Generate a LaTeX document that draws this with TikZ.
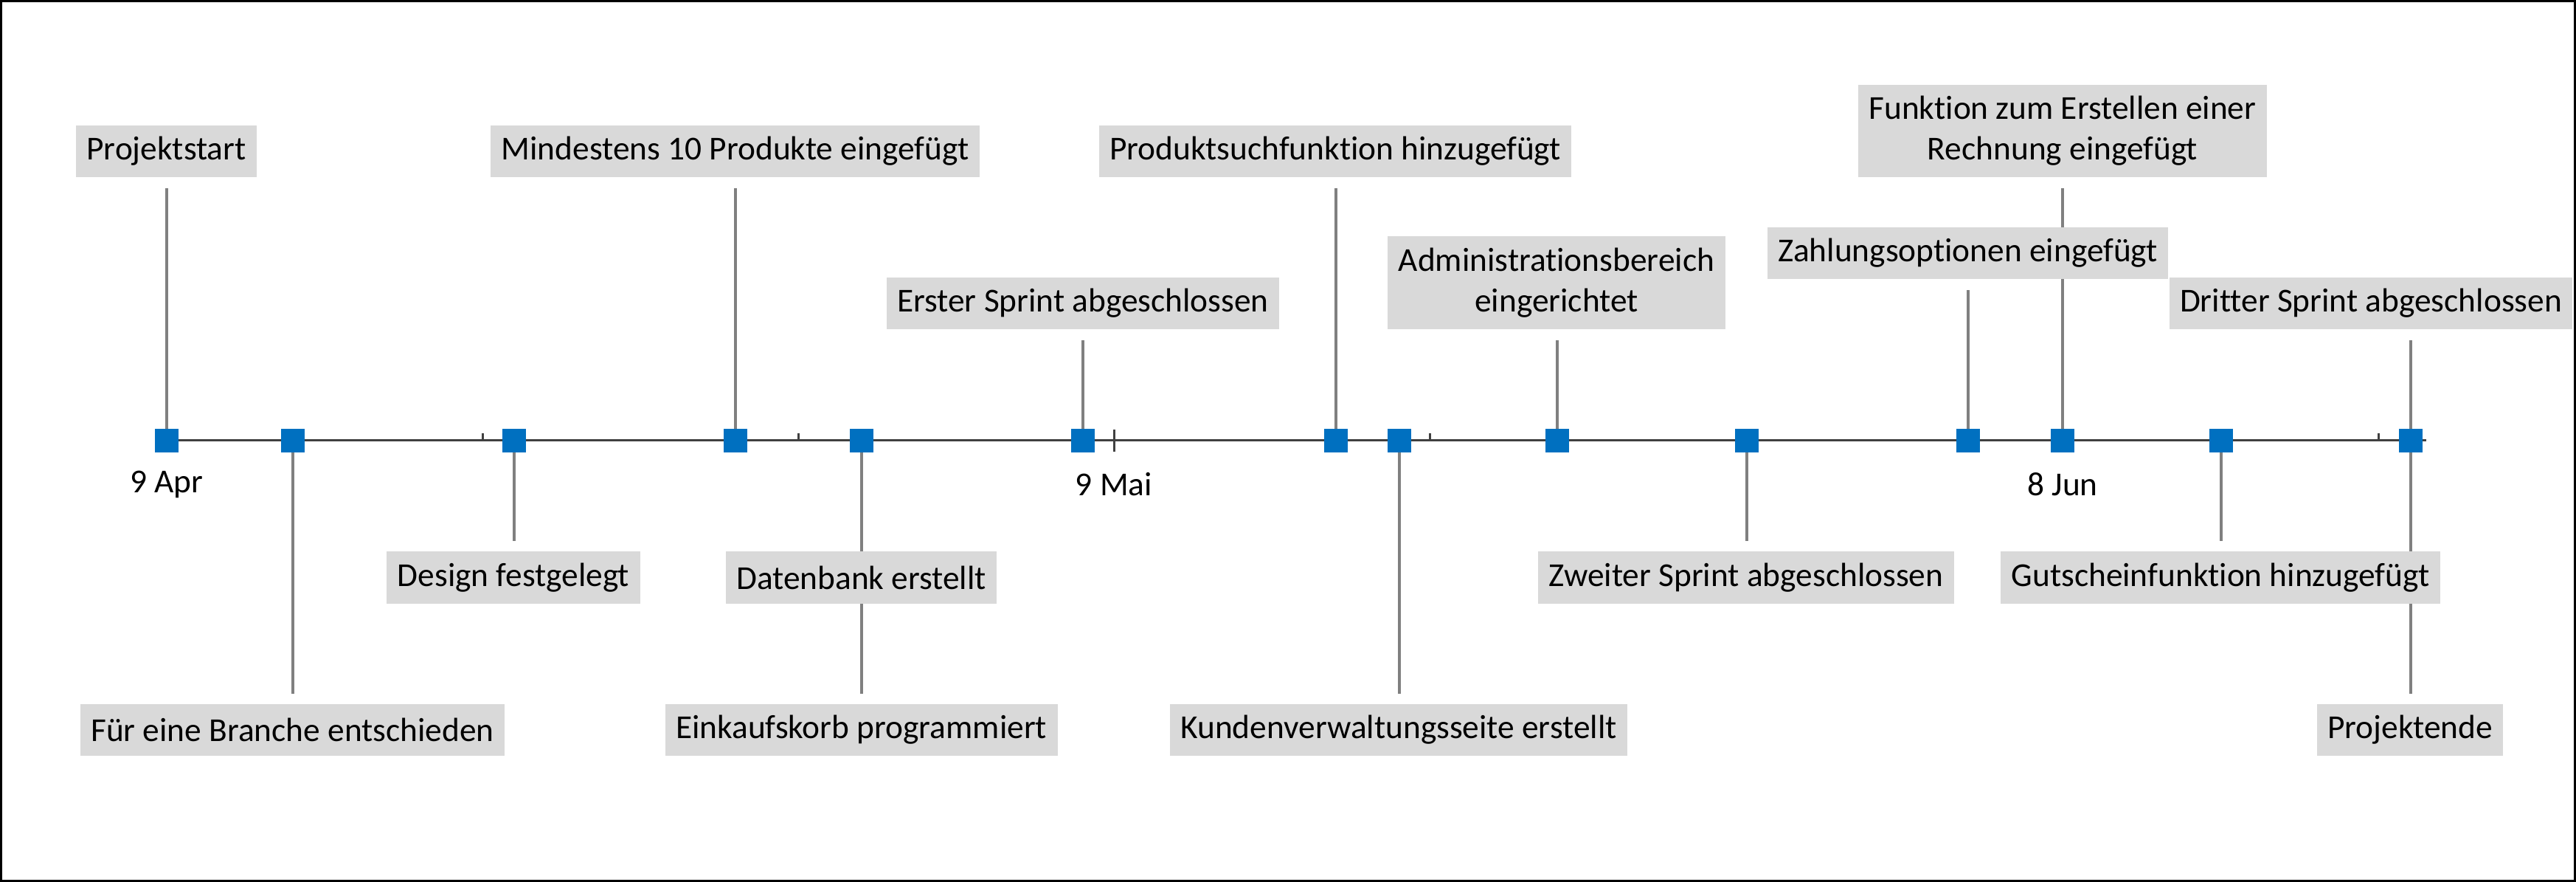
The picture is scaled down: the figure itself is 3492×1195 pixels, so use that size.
\documentclass[tikz,border=0pt]{standalone}
\usepackage{fontspec}
\setmainfont{Carlito}[Ligatures={NoCommon}]
\usetikzlibrary{calc}
\definecolor{mblue}{HTML}{0070C0}
\definecolor{boxgray}{HTML}{D9D9D9}
\definecolor{stemgray}{HTML}{808080}
\definecolor{axisgray}{HTML}{404040}
\pgfdeclarelayer{bg}
\pgfsetlayers{bg,main}
\begin{document}
\begin{tikzpicture}[x=0.01cm,y=-0.01cm,
  lbl/.style={fill=boxgray, inner xsep=0.145cm, inner ysep=0pt, minimum height=0.7cm,
    align=center, font=\fontsize{12.9}{15.65}\selectfont, text=black},
  lbltwo/.style={lbl, minimum height=1.25cm},
  stem/.style={draw=stemgray, line width=0.045cm},
  ms/.style={fill=mblue, minimum size=0.32cm, inner sep=0pt, draw=none},
  datelbl/.style={font=\fontsize{12.9}{15.65}\selectfont, inner sep=0pt},
  axisline/.style={draw=axisgray, line width=0.03cm},
  ticks/.style={draw=axisgray, line width=0.03cm},
  frameline/.style={draw=black, line width=0.03cm}]
\useasboundingbox (0,0) rectangle (3492,1195);
\draw[frameline] (1.5,1.5) rectangle (3490.5,1193.5);

% axis
\coordinate (axL) at (226,597);
\coordinate (axR) at (3289,597);

% labels
\node[lbl] (b1) at (225.5,205) {Projektstart};
\node[lbl] (b2) at (396.5,989) {Für eine Branche entschieden};
\node[lbl] (b3) at (696,782.5) {Design festgelegt};
\node[lbl] (b4) at (996.5,205) {Mindestens 10 Produkte eingefügt};
\node[lbl] (b5) at (1167.5,782.5) {Datenbank erstellt};
\node[lbl] (b6) at (1167.6,989) {Einkaufskorb programmiert};
\node[lbl] (b7) at (1468,411) {Erster Sprint abgeschlossen};
\node[lbl] (b8) at (1810,205) {Produktsuchfunktion hinzugefügt};
\node[lbl] (b9) at (1896,989) {Kundenverwaltungsseite erstellt};
\node[lbltwo] (b10) at (2110,383) {Administrationsbereich\\eingerichtet};
\node[lbl] (b11) at (2367,782.5) {Zweiter Sprint abgeschlossen};
\node[lbl] (b12) at (2667.5,343) {Zahlungsoptionen eingefügt};
\node[lbltwo] (b13) at (2796,177.5) {Funktion zum Erstellen einer\\Rechnung eingefügt};
\node[lbl] (b14) at (3010,782.5) {Gutscheinfunktion hinzugefügt};
\node[lbl] (b15) at (3214,411) {Dritter Sprint abgeschlossen};
\node[lbl] (b16) at (3267,989) {Projektende};

% date labels
\node[datelbl] (d1) at (226,656) {9 Apr};
\node[datelbl] (d2) at (1510,656) {9 Mai};
\node[datelbl] (d3) at (2796,656) {8 Jun};

% markers
\foreach \n/\x in {1/226,2/397,3/697,4/997,5/1168,7/1468,8/1811,9/1897,10/2111,11/2368,12/2668,13/2796,14/3011,15/3268}
  \node[ms] (m\n) at (\x,597) {};

\begin{pgfonlayer}{bg}
\draw[axisline] (axL) -- (axR);
\foreach \x in {654,1082,1938,2367,3224}
  \draw[ticks] (\x,597) -- (\x,587);
\foreach \x in {226,1510,2796}
  \draw[ticks] (\x,582) -- (\x,612);
% upward stems
\foreach \m/\b in {1/1,4/4,7/7,8/8,10/10,12/12,13/13,15/15}
  \draw[stem] (m\m.center) -- ($(m\m.center |- b\b.south)+(0,14.5)$);
% downward stems
\foreach \m/\b in {2/2,3/3,5/5,5/6,9/9,11/11,14/14,15/16}
  \draw[stem] (m\m.center) -- ($(m\m.center |- b\b.north)+(0,-13.5)$);
\end{pgfonlayer}
\end{tikzpicture}
\end{document}
